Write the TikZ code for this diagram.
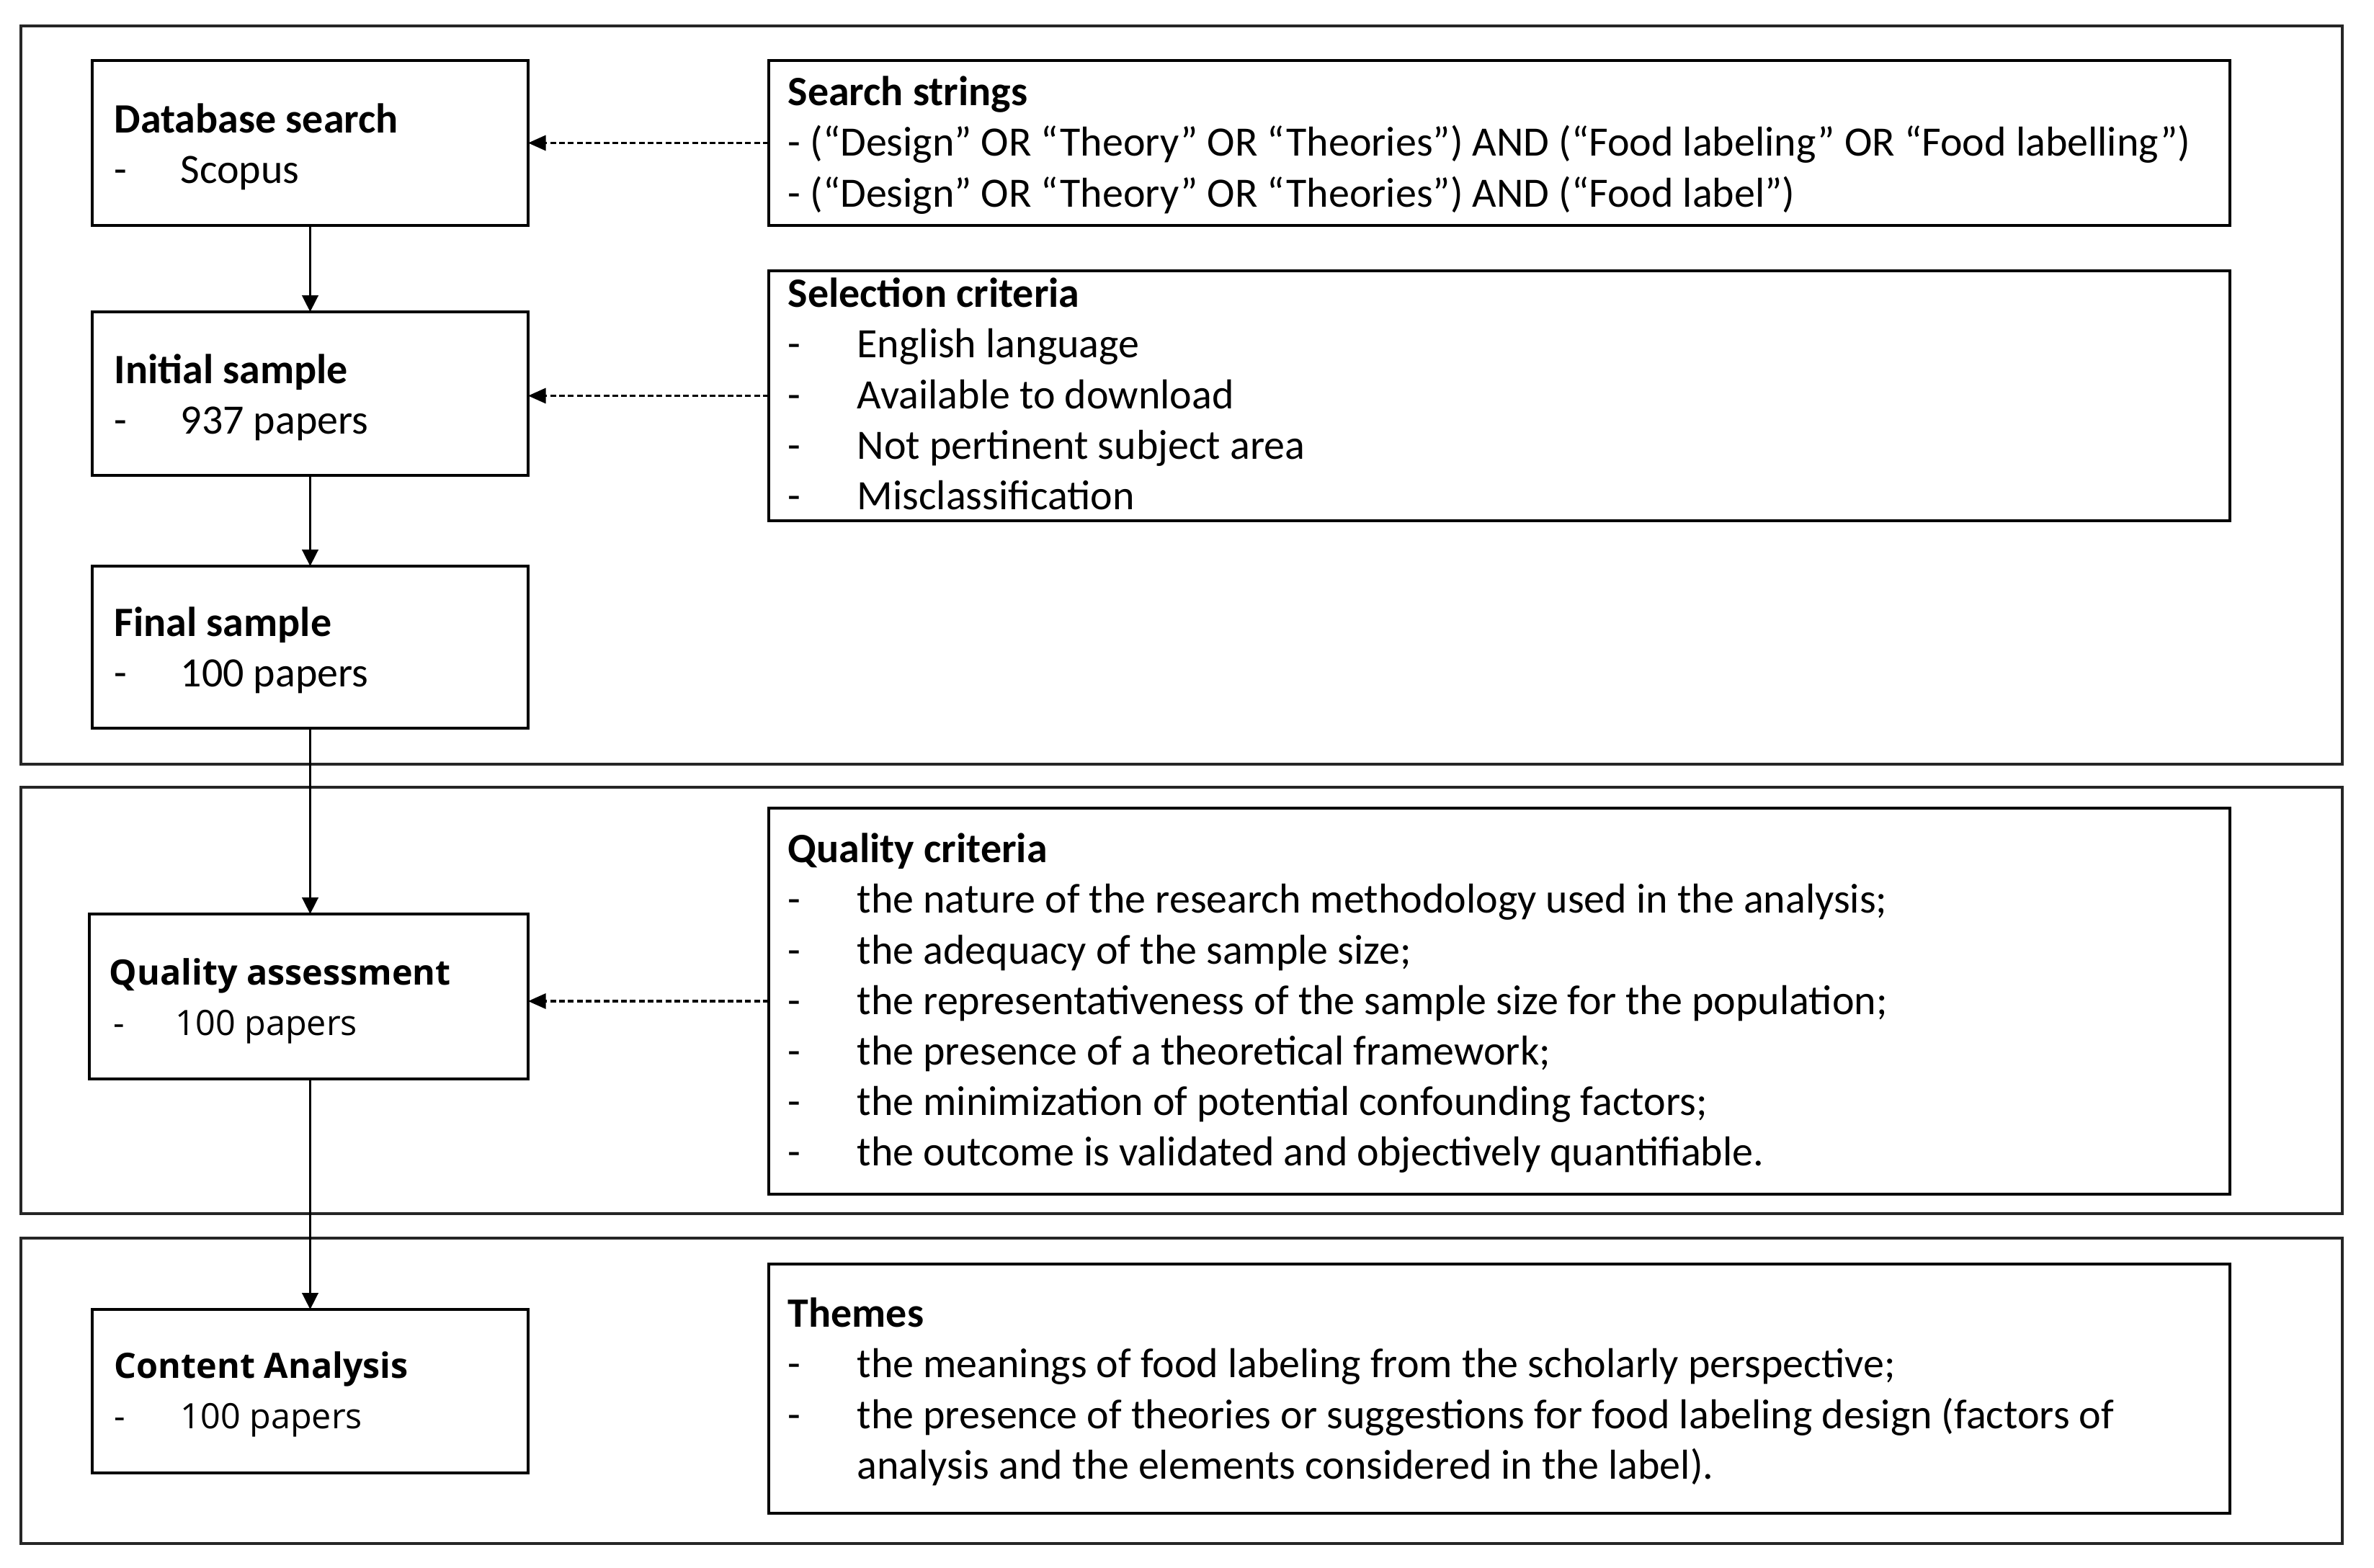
\documentclass[tikz,border=0pt]{standalone}
\usepackage{fontspec}
\setmainfont{Carlito}
\newfontfamily\osans{Open Sans}
\usetikzlibrary{arrows.meta}
\newcommand\ditem[2]{\makebox[#1][l]{-}#2}
\begin{document}
\begin{tikzpicture}[x=1cm,y=1cm,
  box/.style={draw, line width=1.35pt, inner sep=0pt, outer sep=0pt, anchor=north west},
  frame/.style={draw=black!85, line width=1pt, inner sep=0pt, outer sep=0pt, anchor=north west},
  txt/.style={anchor=north west, inner sep=0pt, align=left, font=\fontsize{16.5}{19.95}\selectfont},
  osx/.style={anchor=north west, inner sep=0pt, align=left, font=\osans\fontsize{13.8}{19.95}\selectfont},
  flow/.style={line width=1pt, -{Triangle[width=6.3pt,length=6.5pt]}},
  refl/.style={line width=0.9pt, dash pattern=on 2.3pt off 1.2pt, -{Triangle[width=6pt,length=7pt]}}
]
\useasboundingbox (0,0) rectangle (32.95,-21.77);
% section frames
\node[frame, minimum width=32.22cm, minimum height=10.25cm] (sec1) at (0.29,-0.36) {};
\node[frame, minimum width=32.22cm, minimum height=5.92cm] (sec2) at (0.29,-10.93) {};
\node[frame, minimum width=32.22cm, minimum height=4.24cm] (sec3) at (0.29,-17.19) {};
% left boxes
\node[box, minimum width=6.05cm, minimum height=2.29cm] (db) at (1.28,-0.84) {};
\node[box, minimum width=6.05cm, minimum height=2.27cm] (init) at (1.28,-4.33) {};
\node[box, minimum width=6.05cm, minimum height=2.25cm] (final) at (1.28,-7.86) {};
\node[box, minimum width=6.09cm, minimum height=2.29cm] (qa) at (1.24,-12.69) {};
\node[box, minimum width=6.05cm, minimum height=2.27cm] (ca) at (1.28,-18.18) {};
% right boxes
\node[box, minimum width=20.28cm, minimum height=2.29cm] (ss) at (10.67,-0.84) {};
\node[box, minimum width=20.28cm, minimum height=3.47cm] (sel) at (10.67,-3.76) {};
\node[box, minimum width=20.28cm, minimum height=5.36cm] (qc) at (10.67,-11.22) {};
\node[box, minimum width=20.28cm, minimum height=3.46cm] (th) at (10.67,-17.55) {};
% left texts
\node[txt] (dbt) at (1.58,-1.35) {\strut\textbf{Database search}\\\ditem{0.92cm}{Scopus}};
\node[txt] (initt) at (1.58,-4.83) {\strut\textbf{Initial sample}\\\ditem{0.92cm}{937 papers}};
\node[txt] (finalt) at (1.58,-8.34) {\strut\textbf{Final sample}\\\ditem{0.92cm}{100 papers}};
\node[osx] (qat) at (1.51,-13.18) {\strut\textbf{Quality assessment}\\\hspace*{0.06cm}\ditem{0.86cm}{100 papers}};
\node[osx] (cat) at (1.58,-18.64) {\strut\textbf{Content Analysis}\\\ditem{0.92cm}{100 papers}};
% right texts
\node[txt] (sst) at (10.93,-0.97) {\strut\textbf{Search strings}\\
- (“Design” OR “Theory” OR “Theories”) AND (“Food labeling” OR “Food labelling”)\\
- (“Design” OR “Theory” OR “Theories”) AND (“Food label”)};
\node[txt] (selt) at (10.93,-3.77) {\strut\textbf{Selection criteria}\\
\ditem{0.96cm}{English language}\\
\ditem{0.96cm}{Available to download}\\
\ditem{0.96cm}{Not pertinent subject area}\\
\ditem{0.96cm}{Misclassification}};
\node[txt] (qct) at (10.93,-11.48) {\strut\textbf{Quality criteria}\\
\ditem{0.96cm}{the nature of the research methodology used in the analysis;}\\
\ditem{0.96cm}{the adequacy of the sample size;}\\
\ditem{0.96cm}{the representativeness of the sample size for the population;}\\
\ditem{0.96cm}{the presence of a theoretical framework;}\\
\ditem{0.96cm}{the minimization of potential confounding factors;}\\
\ditem{0.96cm}{the outcome is validated and objectively quantifiable.}};
\node[txt] (tht) at (10.93,-17.93) {\strut\textbf{Themes}\\
\ditem{0.96cm}{the meanings of food labeling from the scholarly perspective;}\\
\ditem{0.96cm}{the presence of theories or suggestions for food labeling design (factors of}\\
\hspace*{0.96cm}analysis and the elements considered in the label).};
% connectors
\draw[flow] (db.south) -- (init.north);
\draw[flow] (init.south) -- (final.north);
\draw[flow] (final.south) -- (final.south |- qa.north);
\draw[flow] (final.south |- qa.south) -- (final.south |- ca.north);
\draw[refl] (ss.west) -- (ss.west -| db.east);
\draw[refl] (sel.west) -- (sel.west -| init.east);
\draw[refl] (qc.west) -- (qc.west -| qa.east);
\end{tikzpicture}
\end{document}
